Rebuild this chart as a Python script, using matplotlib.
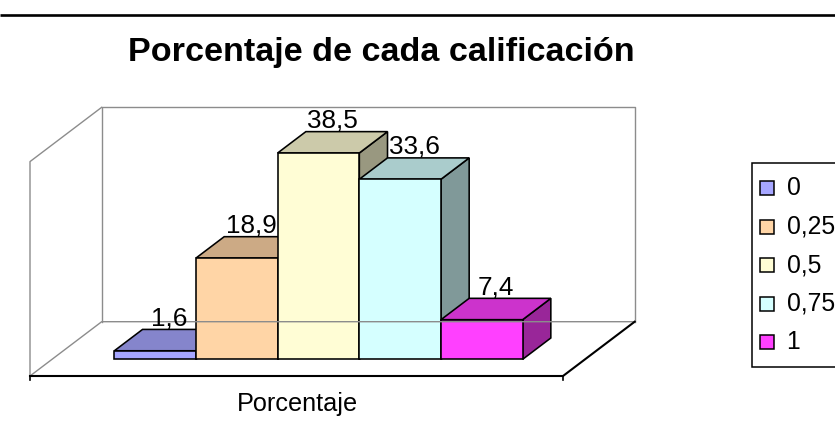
import numpy as np
import matplotlib
matplotlib.use("Agg")
import matplotlib.pyplot as plt
from matplotlib.patches import Polygon, Rectangle

plt.rcParams["font.family"] = ["Liberation Sans", "DejaVu Sans"]

# data
title = "Porcentaje de cada calificación"
category = "Porcentaje"
series = ["0", "0,25", "0,5", "0,75", "1"]
values = [1.6, 18.9, 38.5, 33.6, 7.4]
value_labels = ["1,6", "18,9", "38,5", "33,6", "7,4"]
front_colors = ["#A6A6FF", "#FFD5A6", "#FFFDD5", "#D5FFFF", "#FF40FF"]

# layout of the fake 3D box (pixel units, y grows downwards)
W, H = 835, 432
x0, y0 = 30.0, 376.0          # front-left floor corner
plot_w = 533.0                # front floor width
depth = np.array([71.7, -54.3])  # full depth vector
ppu = 5.36                    # pixels per value unit
ymax = 40
group_frac = 0.766            # share of the width taken by the bar group
z_front, z_back = 0.307, 0.70  # bar depth band


def proj(u, v, z):
    """u: 0..1 across the floor, v: value, z: 0..1 depth -> pixel coords"""
    return (x0 + u * plot_w + z * depth[0],
            y0 - v * ppu + z * depth[1])


def shade(c, f):
    r, g, b = matplotlib.colors.to_rgb(c)
    return (r * f, g * f, b * f)


fig = plt.figure(figsize=(W / 100, H / 100), dpi=100)
ax = fig.add_axes([0, 0, 1, 1])
ax.set_xlim(0, W)
ax.set_ylim(H, 0)
ax.axis("off")

# top border line
ax.plot([0, W], [15.3, 15.3], color="black", lw=1.9, solid_capstyle="butt")

wall = "#8C8C8C"
# back wall
p = [proj(0, 0, 1), proj(0, ymax, 1), proj(1, ymax, 1), proj(1, 0, 1)]
ax.plot([q[0] for q in p], [q[1] for q in p], color=wall, lw=1.0)
# side wall
p = [proj(0, 0, 0), proj(0, ymax, 0), proj(0, ymax, 1)]
ax.plot([q[0] for q in p], [q[1] for q in p], color=wall, lw=1.0)
# floor
p = [proj(0, 0, 0), proj(0, 0, 1), proj(1, 0, 1)]
ax.plot([q[0] for q in p], [q[1] for q in p], color=wall, lw=1.0)
p = [proj(1, 0, 1), proj(1, 0, 0), proj(0, 0, 0)]
ax.plot([q[0] for q in p], [q[1] for q in p], color="black", lw=1.5)
for u in (0, 1):
    fx, fy = proj(u, 0, 0)
    ax.plot([fx, fx], [fy, fy + 4], color="black", lw=1.2)

# bars, drawn left to right
n = len(values)
bw = group_frac / n
start = (1 - group_frac) / 2
for i, (v, c, lab) in enumerate(zip(values, front_colors, value_labels)):
    ua, ub = start + i * bw, start + (i + 1) * bw
    side = [proj(ub, 0, z_front), proj(ub, 0, z_back),
            proj(ub, v, z_back), proj(ub, v, z_front)]
    top = [proj(ua, v, z_front), proj(ua, v, z_back),
           proj(ub, v, z_back), proj(ub, v, z_front)]
    front = [proj(ua, 0, z_front), proj(ub, 0, z_front),
             proj(ub, v, z_front), proj(ua, v, z_front)]
    ax.add_patch(Polygon(side, closed=True, fc=shade(c, 0.6), ec="black",
                         lw=1.15, joinstyle="miter"))
    ax.add_patch(Polygon(top, closed=True, fc=shade(c, 0.8), ec="black",
                         lw=1.15, joinstyle="miter"))
    ax.add_patch(Polygon(front, closed=True, fc=c, ec="black", lw=1.15,
                         joinstyle="miter"))
    zm = (z_front + z_back) / 2
    lx, _ = proj((ua + ub) / 2, v, zm)
    _, ly = proj(ua, v, z_back)
    ax.text(lx, ly - 4, lab, ha="center", va="baseline", fontsize=18.8)

# titles
ax.text(381.5, 53, title, ha="center", va="center", fontsize=24.6,
        fontweight="bold")
ax.text(297, 404, category, ha="center", va="center", fontsize=18.2)

# legend
ax.add_patch(Rectangle((752, 162.5), 100, 204, fc="white", ec="black",
                       lw=1.1))
for k, (s, c) in enumerate(zip(series, front_colors)):
    cy = 188 + k * 38.5
    ax.add_patch(Rectangle((760, cy - 7), 14, 14, fc=c, ec="black", lw=1.1))
    ax.text(786.5, cy, s, ha="left", va="center", fontsize=17.8)

fig.savefig("out.png", dpi=100)
